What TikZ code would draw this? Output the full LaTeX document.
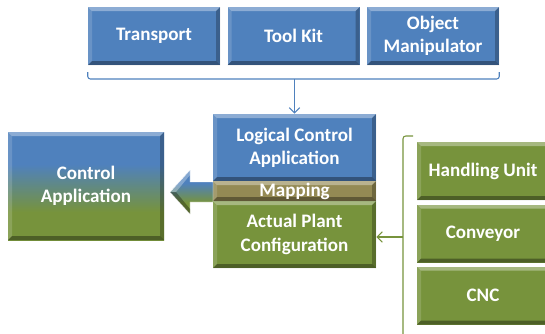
\documentclass[tikz,border=0pt]{standalone}
\usepackage{fontspec}
\setmainfont{Carlito}
\usetikzlibrary{arrows.meta}

\definecolor{blu}{HTML}{4F81BD}
\definecolor{grn}{HTML}{77933C}
\definecolor{tan}{HTML}{948A54}
\pgfdeclareverticalshading{blugrn}{100bp}{color(0bp)=(grn); color(38bp)=(grn); color(60bp)=(blu); color(100bp)=(blu)}
\newcommand{\pbb}{path picture bounding box}

\begin{document}
\begin{tikzpicture}[x=0.75pt,y=-0.75pt]
    \tikzstyle{bevel}=[path picture={
        \fill[white,opacity=.35] (\pbb.north west) -- (\pbb.north east) -- ++(-3pt,-3pt) -- ([shift={(3pt,-3pt)}]\pbb.north west) -- cycle;
        \fill[white,opacity=.15] (\pbb.north west) -- (\pbb.south west) -- ++(3pt,3pt) -- ([shift={(3pt,-3pt)}]\pbb.north west) -- cycle;
        \fill[black,opacity=.35] (\pbb.south west) -- (\pbb.south east) -- ++(-3pt,3pt) -- ([shift={(3pt,3pt)}]\pbb.south west) -- cycle;
        \fill[black,opacity=.25] (\pbb.north east) -- (\pbb.south east) -- ++(-3pt,3pt) -- ([shift={(-3pt,-3pt)}]\pbb.north east) -- cycle;
    }];
    \tikzstyle{box}=[bevel, rectangle, text=white, font=\fontsize{14.3}{17.5}\selectfont\bfseries, align=center, inner sep=0pt];
    \tikzstyle{small}=[box, fill=blu, minimum width=99pt, minimum height=43.5pt];
    \tikzstyle{unit}=[box, fill=grn, minimum width=99pt, minimum height=43.5pt];
    \tikzstyle{layer}=[box, minimum width=122.25pt, minimum height=50.25pt];
    \tikzstyle{brace}=[line width=0.8pt, rounded corners=2pt];

    \useasboundingbox (0,0) rectangle (545,333);

    \node[small] at (154,36) (trans) {Transport};
    \node[small] at (293.5,36) (tool) {Tool Kit};
    \node[small] at (433,36) (obj) {Object\\Manipulator};

    \node[layer,fill=blu] at (294.5,147.5) (logic) {Logical Control\\Application};
    \node[layer,fill=grn] at (294.5,234.5) (plant) {Actual Plant\\Configuration};
    \node[layer,fill=tan,minimum height=15pt] at (294.5,191) (map) {Mapping};

    \node[box,shading=blugrn,minimum width=117pt,minimum height=81pt] at (86,186) (ctrl) {Control\\Application};

    \node[unit] at (483,171) (hand) {Handling Unit};
    \node[unit] at (483,233.5) (conv) {Conveyor};
    \node[unit] at (483,295.5) (cnc) {CNC};

    % brace above logical control
    \coordinate (tb) at (294.5,79);
    \draw[brace,blu] (trans.south west |- 0,72) -- (trans.south west |- tb) -- (obj.south east |- tb) -- (obj.south east |- 0,72);
    \draw[blu,line width=0.8pt,-{Straight Barb[length=4pt,width=8pt]}] (tb) -- (logic.north);

    % brace left of the units
    \coordinate (rb) at (403,237);
    \draw[brace,grn] (413,136) -- (403,136) -- (403,340);
    \draw[grn,line width=0.8pt,-{Straight Barb[length=4pt,width=8pt]}] (rb) -- (plant.east |- rb);

    % big arrow to control application
    \shade[shading=blugrn,draw=white,line width=0.3pt] (170,192) -- (190,170) -- (190,182) -- (213,182) -- (213,202) -- (190,202) -- (190,214) -- cycle;
    \fill[black,opacity=.3] (170,192) -- (190,214) -- (190,209) -- (176,192) -- cycle;
    \fill[white,opacity=.3] (170,192) -- (190,170) -- (190,175) -- (176,192) -- cycle;
\end{tikzpicture}
\end{document}
